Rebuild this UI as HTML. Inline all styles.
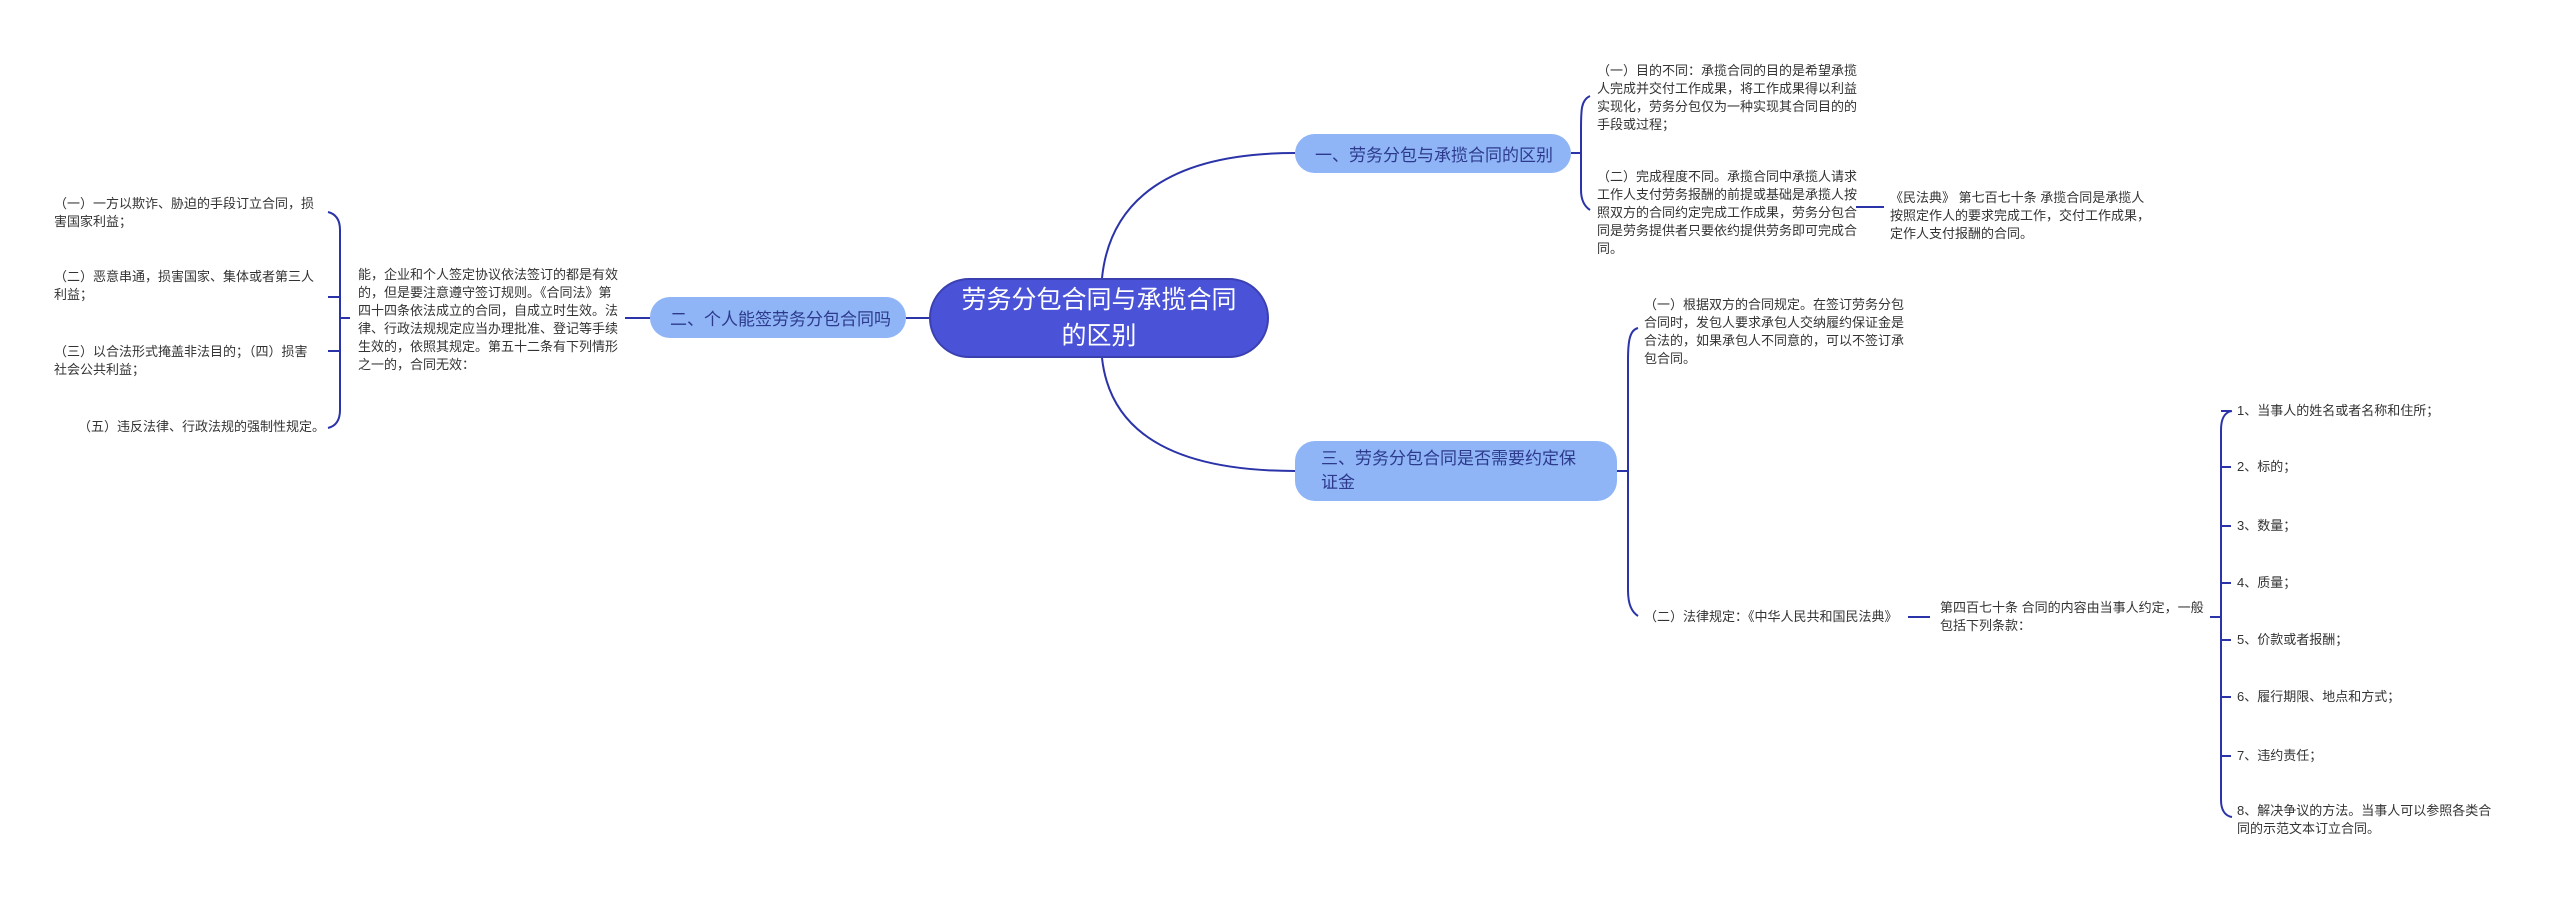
<!DOCTYPE html>
<html><head><meta charset="utf-8"><style>
body{margin:0;width:2560px;height:899px;background:#fff;position:relative;overflow:hidden;font-family:"Liberation Sans","Noto Sans CJK SC",sans-serif}
.t{position:absolute;font-size:13px;line-height:18px;color:#333}
.n{position:absolute;background:#8fb5f7;color:#2d3a8c;font-size:17px;border-radius:20px;box-sizing:border-box;display:flex;align-items:center}
.c{position:absolute;background:#4a52d8;color:#fff;font-size:25px;line-height:36px;border-radius:40px;text-align:center;display:flex;align-items:center;justify-content:center;border:2px solid #3a40b0;box-sizing:border-box}
</style></head><body>
<svg width="2560" height="899" style="position:absolute;left:0;top:0" fill="none" stroke="#2b33a8" stroke-width="2">
<path d="M1102 278 C1110 200,1170 153,1295 153"/>
<path d="M1102 358 C1110 430,1170 471,1295 471"/>
<path d="M929 318 L906 318"/>
<path d="M1571 153 L1581 153 M1590 96 C1581 100,1581 110,1581 130 L1581 190 C1581 200,1584 206,1590 210"/>
<path d="M1856 207 L1884 207"/>
<path d="M1617 471 L1628 471 M1638 328 C1630 330,1628 340,1628 360 L1628 590 C1628 605,1632 612,1638 616"/>
<path d="M1908 617 L1930 617"/>
<path d="M2210 617 L2221 617 M2232 411 C2224 412,2221 420,2221 430 L2221 800 C2221 810,2225 816,2232 817"/>
<path d="M2221 411h10M2221 467h10M2221 526h10M2221 583h10M2221 640h10M2221 697h10M2221 756h10"/>
<path d="M650 318 L625 318"/>
<path d="M340 318 L350 318 M328 212 C336 214,340 220,340 230 L340 410 C340 420,336 426,328 428"/>
<path d="M340 297h-12M340 351h-12"/>
</svg>
<div class="c" style="left:929px;top:278px;width:340px;height:80px">劳务分包合同与承揽合同<br>的区别</div>
<div class="n" style="left:1295px;top:134px;width:276px;height:39px;padding-left:20px">一、劳务分包与承揽合同的区别</div>
<div class="n" style="left:650px;top:297px;width:256px;height:41px;padding-left:20px">二、个人能签劳务分包合同吗</div>
<div class="n" style="left:1295px;top:441px;width:322px;height:60px;padding-left:26px;line-height:24px">三、劳务分包合同是否需要约定保<br>证金</div>
<div class="t" style="left:1597px;top:62px;width:262px">（一）目的不同：承揽合同的目的是希望承揽人完成并交付工作成果，将工作成果得以利益实现化，劳务分包仅为一种实现其合同目的的手段或过程；</div>
<div class="t" style="left:1597px;top:168px;width:262px">（二）完成程度不同。承揽合同中承揽人请求工作人支付劳务报酬的前提或基础是承揽人按照双方的合同约定完成工作成果，劳务分包合同是劳务提供者只要依约提供劳务即可完成合同。</div>
<div class="t" style="left:1890px;top:189px;width:262px">《民法典》 第七百七十条 承揽合同是承揽人按照定作人的要求完成工作，交付工作成果，定作人支付报酬的合同。</div>
<div class="t" style="left:1644px;top:296px;width:266px">（一）根据双方的合同规定。在签订劳务分包合同时，发包人要求承包人交纳履约保证金是合法的，如果承包人不同意的，可以不签订承包合同。</div>
<div class="t" style="left:1644px;top:608px;white-space:nowrap">（二）法律规定：《中华人民共和国民法典》</div>
<div class="t" style="left:1940px;top:599px;width:272px">第四百七十条 合同的内容由当事人约定，一般包括下列条款：</div>
<div class="t" style="left:2237px;top:402px">1、当事人的姓名或者名称和住所；</div>
<div class="t" style="left:2237px;top:458px">2、标的；</div>
<div class="t" style="left:2237px;top:517px">3、数量；</div>
<div class="t" style="left:2237px;top:574px">4、质量；</div>
<div class="t" style="left:2237px;top:631px">5、价款或者报酬；</div>
<div class="t" style="left:2237px;top:688px">6、履行期限、地点和方式；</div>
<div class="t" style="left:2237px;top:747px">7、违约责任；</div>
<div class="t" style="left:2237px;top:802px;width:265px">8、解决争议的方法。当事人可以参照各类合同的示范文本订立合同。</div>
<div class="t" style="left:358px;top:266px;width:266px">能，企业和个人签定协议依法签订的都是有效的，但是要注意遵守签订规则。《合同法》第四十四条依法成立的合同，自成立时生效。法律、行政法规规定应当办理批准、登记等手续生效的，依照其规定。第五十二条有下列情形之一的，合同无效：</div>
<div class="t" style="left:54px;top:195px;width:270px">（一）一方以欺诈、胁迫的手段订立合同，损害国家利益；</div>
<div class="t" style="left:54px;top:268px;width:270px">（二）恶意串通，损害国家、集体或者第三人利益；</div>
<div class="t" style="left:54px;top:343px;width:262px">（三）以合法形式掩盖非法目的；（四）损害社会公共利益；</div>
<div class="t" style="left:78px;top:418px;white-space:nowrap">（五）违反法律、行政法规的强制性规定。</div>
</body></html>
